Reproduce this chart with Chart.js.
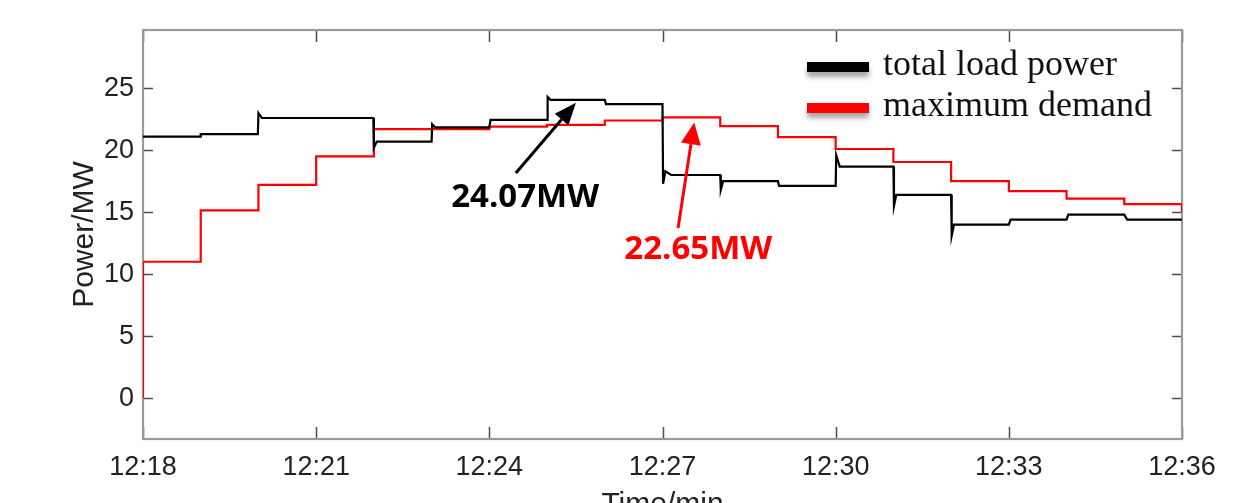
<!DOCTYPE html>
<html>
<head>
<meta charset="utf-8">
<script src="https://cdn.jsdelivr.net/npm/chart.js@4/dist/chart.umd.min.js"></script>
<style>
  html, body { margin: 0; padding: 0; background: #fff; overflow: hidden; }
  #frame { width: 1260px; height: 503px; overflow: hidden; position: relative; }
  #wrap { width: 1260px; height: 560px; }
</style>
</head>
<body>
<div id="frame"><div id="wrap"><canvas id="c" width="1260" height="560"></canvas></div></div>
<script>
// Time axis: minutes after 12:18
const tickMinutes = [0, 3, 6, 9, 12, 15, 18];
const tickLabels = ['12:18', '12:21', '12:24', '12:27', '12:30', '12:33', '12:36'];
const yTicks = [0, 5, 10, 15, 20, 25];

// Maximum demand (each value holds until the next time)
const demandTimes  = [0, 0, 1, 2, 3, 4, 5, 6, 7, 8, 9, 10, 11, 12, 13, 14, 15, 16, 17, 18];
const demandValues = [0, 11.0, 15.15, 17.2, 19.5, 21.7, 21.7, 21.9, 22.05, 22.4, 22.65, 21.95, 21.05, 20.1, 19.05, 17.5, 16.7, 16.1, 15.65, 15.0];

// Total load power (measured trace, with switching transients)
const loadTimes  = [0, 0.99, 1.0, 1.99, 2.0, 2.06, 3.99, 4.0, 4.05, 5.0, 5.01, 5.06, 6.0, 6.02, 7.0, 7.01, 7.06, 8.0, 8.02, 9.0, 9.01, 9.05, 9.15, 10.0, 10.01, 10.05, 11.0, 11.02, 12.0, 12.01, 12.07, 13.0, 13.01, 13.05, 14.0, 14.01, 14.05, 15.0, 15.03, 16.0, 16.03, 17.0, 17.05, 18.0];
const loadValues = [21.1, 21.1, 21.3, 21.3, 23.0, 22.6, 22.6, 20.2, 20.7, 20.7, 22.1, 21.85, 21.85, 22.45, 22.45, 24.3, 24.07, 24.07, 23.72, 23.72, 17.3, 18.3, 18.0, 18.0, 16.8, 17.5, 17.5, 17.12, 17.12, 19.6, 18.68, 18.68, 15.5, 16.4, 16.4, 13.1, 14.0, 14.0, 14.4, 14.4, 14.8, 14.8, 14.4, 14.4];

const seriesNames = ['total load power', 'maximum demand'];
const seriesColors = ['#000000', '#ff0000'];

// Callouts: text, value pointed at, time pointed at
const noteTexts  = ['24.07MW', '22.65MW'];
const noteValues = [24.07, 22.65];
const noteTimes  = [7.5, 9.55];

const toPoints = (xs, ys) => xs.map((x, i) => ({ x: x, y: ys[i] }));

const boxPlugin = {
  id: 'boxAndTicks',
  beforeDatasetsDraw(chart) {
    const { ctx, chartArea: a, scales: { x, y } } = chart;
    ctx.save();
    ctx.strokeStyle = '#4d4d4d';
    ctx.lineWidth = 1.5;
    ctx.beginPath();
    tickMinutes.forEach(m => {
      const px = Math.round(x.getPixelForValue(m)) + 0.5;
      ctx.moveTo(px, a.bottom); ctx.lineTo(px, a.bottom - 12);
      ctx.moveTo(px, a.top); ctx.lineTo(px, a.top + 12);
    });
    yTicks.forEach(v => {
      const py = Math.round(y.getPixelForValue(v)) + 0.5;
      ctx.moveTo(a.left, py); ctx.lineTo(a.left + 10, py);
      ctx.moveTo(a.right, py); ctx.lineTo(a.right - 10, py);
    });
    ctx.stroke();
    ctx.strokeStyle = '#9a9a9a';
    ctx.lineWidth = 2.2;
    ctx.strokeRect(a.left, a.top, a.right - a.left, a.bottom - a.top);
    ctx.restore();
  }
};

function arrow(ctx, x0, y0, x1, y1, color, headLen, headHalf) {
  const ang = Math.atan2(y1 - y0, x1 - x0);
  const bx = x1 - headLen * Math.cos(ang), by = y1 - headLen * Math.sin(ang);
  ctx.strokeStyle = color;
  ctx.fillStyle = color;
  ctx.lineWidth = 3;
  ctx.beginPath();
  ctx.moveTo(x0, y0); ctx.lineTo(bx, by);
  ctx.stroke();
  ctx.beginPath();
  ctx.moveTo(x1, y1);
  ctx.lineTo(bx + headHalf * Math.sin(ang), by - headHalf * Math.cos(ang));
  ctx.lineTo(bx - headHalf * Math.sin(ang), by + headHalf * Math.cos(ang));
  ctx.closePath();
  ctx.fill();
}

const notesPlugin = {
  id: 'notes',
  afterDraw(chart, args, opts) {
    const { ctx, scales: { x, y } } = chart;
    ctx.save();
    // legend
    chart.data.datasets.forEach((ds, i) => {
      const cy = opts.legendTop + i * opts.legendGap;
      ctx.save();
      ctx.shadowColor = 'rgba(0,0,0,0.35)';
      ctx.shadowBlur = 5;
      ctx.shadowOffsetY = 5;
      ctx.fillStyle = ds.borderColor;
      ctx.fillRect(opts.legendLeft, cy - 5, 62, 10);
      ctx.restore();
      ctx.fillStyle = '#111';
      ctx.font = '36px "Liberation Serif", "Times New Roman", serif';
      ctx.textAlign = 'left';
      ctx.textBaseline = 'alphabetic';
      ctx.fillText(ds.label, opts.legendLeft + 76, cy + 8);
    });
    // callouts
    opts.notes.forEach((n, i) => {
      const color = seriesColors[i];
      const tipX = x.getPixelForValue(noteTimes[i]);
      const tipY = y.getPixelForValue(noteValues[i]) + n.tipGap;
      const tailX = x.getPixelForValue(n.tailT), tailY = y.getPixelForValue(n.tailV);
      arrow(ctx, tailX, tailY, tipX, tipY, color, 22, n.headHalf);
      ctx.fillStyle = color;
      ctx.font = '700 33px "Open Sans", sans-serif';
      ctx.textAlign = 'center';
      ctx.textBaseline = 'middle';
      ctx.fillText(noteTexts[i], x.getPixelForValue(n.textT), y.getPixelForValue(n.textV));
    });
    ctx.restore();
  }
};

const tickFont = { family: "'Liberation Sans', Arial, sans-serif", size: 27 };
const titleFont = { family: "'Liberation Sans', Arial, sans-serif", size: 30 };

new Chart(document.getElementById('c'), {
  type: 'line',
  data: {
    datasets: [
      {
        label: seriesNames[0],
        data: toPoints(loadTimes, loadValues),
        borderColor: seriesColors[0],
        borderWidth: 2.2,
        pointRadius: 0,
        tension: 0
      },
      {
        label: seriesNames[1],
        data: toPoints(demandTimes, demandValues),
        borderColor: seriesColors[1],
        borderWidth: 2.2,
        pointRadius: 0,
        stepped: 'before',
        tension: 0
      }
    ]
  },
  options: {
    responsive: false,
    animation: false,
    layout: { padding: { left: 0, top: 30, right: 78, bottom: 0 } },
    plugins: {
      legend: { display: false },
      tooltip: { enabled: false },
      notes: {
        legendLeft: 807,
        legendTop: 67,
        legendGap: 41,
        notes: [
          { tailT: 6.46, tailV: 18.17, textT: 6.62, textV: 16.2, tipGap: 3, headHalf: 9 },
          { tailT: 9.27, tailV: 13.73, textT: 9.62, textV: 11.95, tipGap: 5, headHalf: 10 }
        ]
      }
    },
    scales: {
      x: {
        type: 'linear',
        min: 0,
        max: 18,
        afterBuildTicks: s => { s.ticks = tickMinutes.map(v => ({ value: v })); },
        afterFit: s => { s.height = 121; },
        grid: { display: false, drawTicks: false },
        border: { display: false },
        ticks: {
          padding: 12,
          maxRotation: 0,
          autoSkip: false,
          color: '#222',
          font: tickFont,
          callback: v => tickLabels[tickMinutes.indexOf(v)]
        },
        title: { display: true, text: 'Time/min', color: '#222', font: titleFont, padding: { top: 0, bottom: 37 } }
      },
      y: {
        type: 'linear',
        min: -3.3,
        max: 29.7,
        afterBuildTicks: s => { s.ticks = yTicks.map(v => ({ value: v })); },
        afterFit: s => { s.width = 143; },
        grid: { display: false, drawTicks: false },
        border: { display: false },
        ticks: { padding: 9, color: '#222', font: tickFont },
        title: { display: true, text: 'Power/MW', color: '#222', font: titleFont, padding: { top: 67, bottom: 0 } }
      }
    }
  },
  plugins: [boxPlugin, notesPlugin]
});
</script>
</body>
</html>
